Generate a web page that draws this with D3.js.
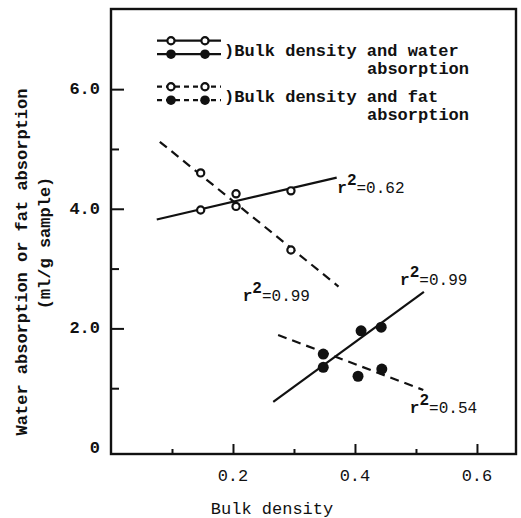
<!DOCTYPE html>
<html>
<head>
<meta charset="utf-8">
<script src="https://cdn.jsdelivr.net/npm/d3@7"></script>
<style>
  html, body { margin: 0; padding: 0; background: #fff; }
  svg { display: block; }
  text { font-family: "Liberation Mono", "DejaVu Sans Mono", monospace; fill: #111; }
</style>
</head>
<body>
<svg id="chart" width="521" height="518"></svg>
<script>
// Bulk density against water / fat absorption (ml/g sample)
const densityOpen = [0.147, 0.205, 0.295];
const waterOpen   = [3.98, 4.04, 4.30];
const fatOpen     = [4.60, 4.25, 3.31];

const densityFilledWater = [0.348, 0.410, 0.443];
const waterFilled        = [1.35, 1.96, 2.02];
const densityFilledFat   = [0.348, 0.405, 0.444];
const fatFilled          = [1.57, 1.20, 1.32];

// regression lines: density range and fitted absorption at each end
const fitWaterOpen   = { x: [0.075, 0.370], y: [3.82, 4.52], r2: "0.62" };
const fitFatOpen     = { x: [0.080, 0.373], y: [5.12, 2.70], r2: "0.99" };
const fitWaterFilled = { x: [0.266, 0.513], y: [0.77, 2.61], r2: "0.99" };
const fitFatFilled   = { x: [0.274, 0.512], y: [1.89, 0.97], r2: "0.54" };

const xMajor = [0.2, 0.4, 0.6];
const xMinor = [0.1, 0.3, 0.5];
const xTickLabels = ["0.2", "0.4", "0.6"];
const yMajor = [2, 4, 6];
const yMinor = [1, 3, 5];
const yTickValues = [0, 2, 4, 6];
const yTickLabels = ["0", "2.0", "4.0", "6.0"];

const legendRows = [
  { text: [")Bulk density and water", "absorption"], dashed: false },
  { text: [")Bulk density and fat", "absorption"], dashed: true }
];

const svg = d3.select("#chart");
const plot = { left: 111, right: 516, top: 9, bottom: 454 };

const x = d3.scaleLinear().domain([0, 0.664]).range([plot.left, plot.right]);
const y = d3.scaleLinear().domain([-0.1, 7.34]).range([plot.bottom, plot.top]);

// frame
svg.append("rect")
  .attr("x", plot.left).attr("y", plot.top)
  .attr("width", plot.right - plot.left).attr("height", plot.bottom - plot.top)
  .attr("fill", "none").attr("stroke", "#111").attr("stroke-width", 2.4);

// inward ticks
function ticks(axis, vals, size, transform) {
  const g = svg.append("g").attr("transform", transform)
    .call(axis.tickValues(vals).tickSize(size).tickFormat(""));
  g.select(".domain").remove();
  g.selectAll(".tick line").attr("stroke", "#111").attr("stroke-width", 2);
}
ticks(d3.axisRight(y), yMajor, 13, `translate(${plot.left},0)`);
ticks(d3.axisRight(y), yMinor, 8, `translate(${plot.left},0)`);
ticks(d3.axisTop(x), xMajor, 10, `translate(0,${plot.bottom})`);
ticks(d3.axisTop(x), xMinor, 5, `translate(0,${plot.bottom})`);

// tick labels
svg.append("g").selectAll("text").data(xMajor).join("text")
  .attr("x", d => x(d)).attr("y", 481)
  .attr("text-anchor", "middle").attr("font-size", 17)
  .text((d, i) => xTickLabels[i]);
svg.append("g").selectAll("text").data(yTickValues).join("text")
  .attr("x", 100).attr("y", d => y(d) + 5)
  .attr("text-anchor", "end").attr("font-size", 17).attr("font-weight", "bold")
  .text((d, i) => yTickLabels[i]);

// axis titles
svg.append("text")
  .attr("x", 272).attr("y", 514).attr("text-anchor", "middle")
  .attr("font-size", 17).text("Bulk density");
svg.append("text")
  .attr("transform", "translate(27,262) rotate(-90)").attr("text-anchor", "middle")
  .attr("font-size", 17).attr("font-weight", "bold")
  .text("Water absorption or fat absorption");
svg.append("text")
  .attr("transform", "translate(50,243) rotate(-90)").attr("text-anchor", "middle")
  .attr("font-size", 17).attr("font-weight", "bold")
  .text("(ml/g sample)");

// regression lines
const fits = [
  { fit: fitWaterOpen, dashed: false, label: [0.371, 4.27] },
  { fit: fitFatOpen, dashed: true, label: [0.216, 2.45] },
  { fit: fitWaterFilled, dashed: false, label: [0.474, 2.72] },
  { fit: fitFatFilled, dashed: true, label: [0.490, 0.58] }
];
const line = d3.line().x(d => x(d[0])).y(d => y(d[1]));
svg.append("g").selectAll("path").data(fits).join("path")
  .attr("d", d => line(d.fit.x.map((v, i) => [v, d.fit.y[i]])))
  .attr("fill", "none").attr("stroke", "#111").attr("stroke-width", 2.2)
  .attr("stroke-dasharray", d => d.dashed ? "9,6" : null);

// r² labels
const lab = svg.append("g").selectAll("text").data(fits).join("text")
  .attr("x", d => x(d.label[0])).attr("y", d => y(d.label[1]))
  .attr("font-size", 16).attr("font-weight", "bold");
lab.append("tspan").text("r");
lab.append("tspan").attr("dy", -8).text("2");
lab.append("tspan").attr("dy", 8).attr("font-weight", "normal").text(d => "=" + d.fit.r2);

// points
function openPoints(xs, ys) {
  svg.append("g").selectAll("circle").data(xs).join("circle")
    .attr("cx", d => x(d)).attr("cy", (d, i) => y(ys[i])).attr("r", 3.6)
    .attr("fill", "#fff").attr("stroke", "#111").attr("stroke-width", 2.2);
}
function filledPoints(xs, ys) {
  svg.append("g").selectAll("circle").data(xs).join("circle")
    .attr("cx", d => x(d)).attr("cy", (d, i) => y(ys[i])).attr("r", 5.5)
    .attr("fill", "#111");
}
openPoints(densityOpen, waterOpen);
openPoints(densityOpen, fatOpen);
filledPoints(densityFilledWater, waterFilled);
filledPoints(densityFilledFat, fatFilled);

// legend
const legendTop = [40.7, 86.7];
legendRows.forEach((row, k) => {
  const g = svg.append("g");
  const y0 = legendTop[k], y1 = y0 + 13.5;
  [y0, y1].forEach((yy, j) => {
    g.append("line").attr("x1", 157).attr("x2", 221).attr("y1", yy).attr("y2", yy)
      .attr("stroke", "#111").attr("stroke-width", 2.2)
      .attr("stroke-dasharray", row.dashed ? "5,4" : null);
    [171, 205].forEach(cx => {
      if (j === 0) {
        g.append("circle").attr("cx", cx).attr("cy", yy).attr("r", 3.6)
          .attr("fill", "#fff").attr("stroke", "#111").attr("stroke-width", 2.2);
      } else {
        g.append("circle").attr("cx", cx).attr("cy", yy).attr("r", 4.8).attr("fill", "#111");
      }
    });
  });
  g.append("text").attr("x", 224).attr("y", y0 + 15.5)
    .attr("font-size", 17).attr("font-weight", "bold").text(row.text[0]);
  g.append("text").attr("x", 367).attr("y", y0 + 33)
    .attr("font-size", 17).attr("font-weight", "bold").text(row.text[1]);
});
</script>
</body>
</html>
